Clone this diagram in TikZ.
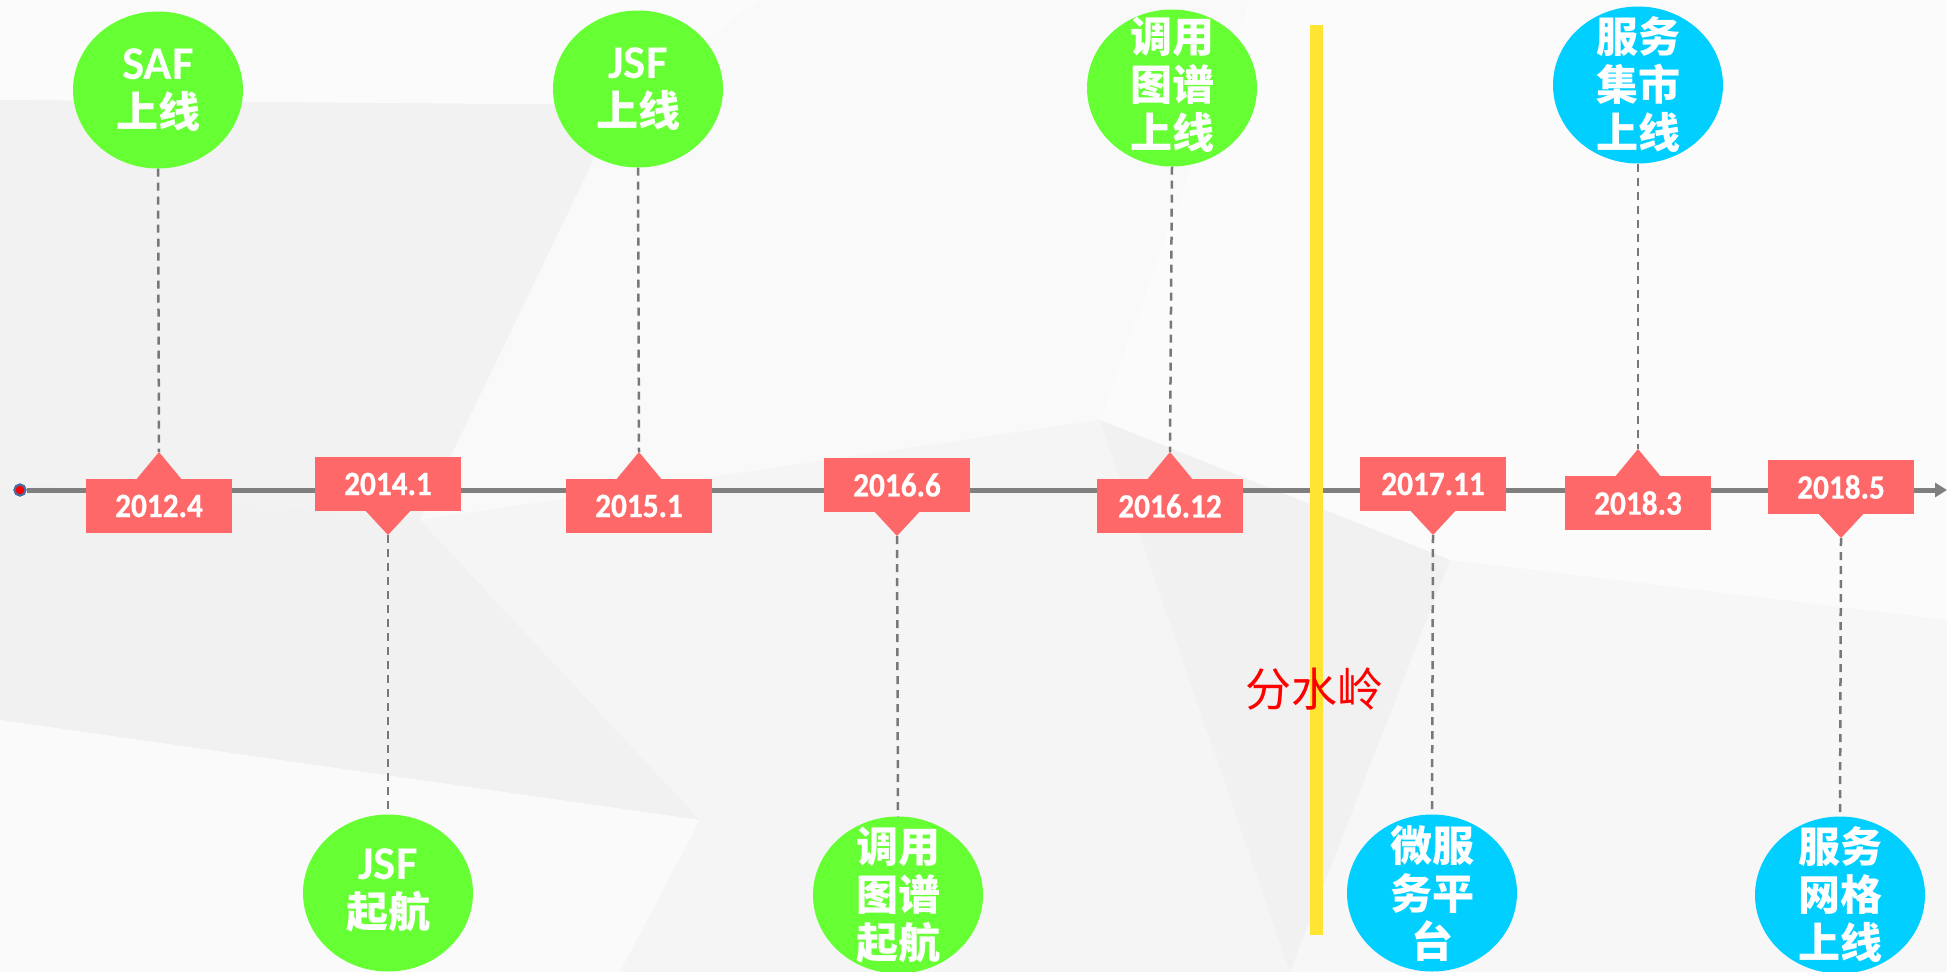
\documentclass[tikz,border=0pt]{standalone}
\usepackage{fontspec}
\usetikzlibrary{shapes.geometric,arrows.meta}
\newfontfamily\latf{Carlito}
\newfontfamily\cjkf{Noto Sans CJK SC}
\newfontfamily\datef{Carlito}[FakeBold=0.6,FakeStretch=0.92]
\definecolor{boxred}{RGB}{255,104,104}
\definecolor{evgreen}{RGB}{102,255,51}
\definecolor{evcyan}{RGB}{0,207,255}
\definecolor{wline}{RGB}{255,228,50}
\definecolor{axisgray}{RGB}{127,127,127}
\definecolor{dashgray}{RGB}{120,120,120}
\definecolor{dotblue}{RGB}{70,110,160}
\tikzset{
  evt/.style={ellipse, minimum width=170pt, minimum height=157pt, inner sep=0pt},
  gevt/.style={evt, fill=evgreen},
  cevt/.style={evt, fill=evcyan},
  evtext/.style={text=white, align=center, inner sep=0pt, font=\cjkf\bfseries\fontsize{42}{48}\selectfont},
  datebox/.style={rectangle, fill=boxred, minimum width=146pt, minimum height=54pt, inner sep=0pt, text=white, font=\datef\bfseries\fontsize{34}{36}\selectfont},
  dashline/.style={draw=dashgray, line width=2.5pt, dash pattern=on 8pt off 6pt},
  bgpoly/.style={draw=none}
}
\newcommand{\lat}[1]{{\latf\fontsize{47}{48}\selectfont #1}}
\begin{document}
\begin{tikzpicture}[x=1pt,y=-1pt]
\useasboundingbox (0,0) rectangle (1947,972);
% background
\fill[black!3.5] (0,0) rectangle (1947,972);
\fill[black!1.5,bgpoly] (0,0) -- (760,0) -- (620,105) -- (0,100) -- cycle;
\fill[black!5,bgpoly] (0,100) -- (620,105) -- (420,520) -- (0,480) -- cycle;
\fill[black!2.5,bgpoly] (620,105) -- (760,0) -- (1250,0) -- (1100,420) -- (420,520) -- cycle;
\fill[black!1.5,bgpoly] (1250,0) -- (1947,0) -- (1947,620) -- (1450,560) -- (1100,420) -- cycle;
\fill[black!5.5,bgpoly] (0,480) -- (420,520) -- (700,820) -- (0,720) -- cycle;
\fill[black!2,bgpoly] (0,720) -- (700,820) -- (620,972) -- (0,972) -- cycle;
\fill[black!4,bgpoly] (420,520) -- (1100,420) -- (1290,972) -- (620,972) -- (700,820) -- cycle;
\fill[black!5.5,bgpoly] (1100,420) -- (1450,560) -- (1290,972) -- cycle;
\fill[black!3,bgpoly] (1450,560) -- (1947,620) -- (1947,972) -- (1290,972) -- cycle;

% axis
\node[circle, fill=red, draw=dotblue, line width=2pt, minimum size=11pt, inner sep=0pt] (start) at (20,490) {};
\coordinate (end) at (1947,490);
\draw[axisgray, line width=5pt, -{Triangle[length=12pt,width=14pt]}] (start.east) -- (end);
\node[circle, fill=red, draw=dotblue, line width=2pt, minimum size=11pt, inner sep=0pt] at (start) {};

% watershed
\coordinate (wtop) at (1316,25);
\coordinate (wbot) at (1316,935);
\draw[wline, line width=13pt] (wtop) -- (wbot);
\node[text=red, font=\cjkf\fontsize{46}{50}\selectfont, inner sep=0pt] (ws) at (1314,689) {分水岭};

% date boxes (up)
\node[datebox] (b1) at (159,506) {2012.4};
\node[datebox] (b3) at (639,506) {2015.1};
\node[datebox] (b5) at (1170,506) {2016.12};
\node[datebox] (b7) at (1638,503) {2018.3};
\coordinate (a1) at (159,452);
\coordinate (a3) at (639,452);
\coordinate (a5) at (1170,452);
\coordinate (a7) at (1638,449);
\foreach \i in {1,3,5,7}{
  \fill[boxred] ([xshift=-23pt,yshift=-1pt]b\i.north) -- (a\i) -- ([xshift=23pt,yshift=-1pt]b\i.north) -- cycle;
}
% date boxes (down)
\node[datebox] (b2) at (388,484) {2014.1};
\node[datebox] (b4) at (897,485) {2016.6};
\node[datebox] (b6) at (1433,484) {2017.11};
\node[datebox] (b8) at (1841,487) {2018.5};
\coordinate (a2) at (388,535);
\coordinate (a4) at (897,536);
\coordinate (a6) at (1433,535);
\coordinate (a8) at (1841,538);
\foreach \i in {2,4,6,8}{
  \fill[boxred] ([xshift=-23pt,yshift=1pt]b\i.south) -- (a\i) -- ([xshift=23pt,yshift=1pt]b\i.south) -- cycle;
}

% event circles
\node[gevt] (c1) at (158,90) {};
\node[gevt] (c3) at (638,89) {};
\node[gevt] (c5) at (1172,88) {};
\node[cevt] (c7) at (1638,85) {};
\node[gevt] (c2) at (388,893) {};
\node[gevt] (c4) at (898,895) {};
\node[cevt] (c6) at (1432,893) {};
\node[cevt] (c8) at (1840,895) {};

\node[evtext] (t1) at (c1) {\lat{SAF}\\上线};
\node[evtext] (t3) at (c3) {\lat{JSF}\\上线};
\node[evtext] (t5) at ([yshift=3pt]c5) {调用\\图谱\\上线};
\node[evtext] (t7) at ([yshift=0pt]c7) {服务\\集市\\上线};
\node[evtext] (t2) at ([yshift=3pt]c2) {\lat{JSF}\\起航};
\node[evtext] (t4) at (c4) {调用\\图谱\\起航};
\node[evtext] (t6) at (c6) {微服\\务平\\台};
\node[evtext] (t8) at (c8) {服务\\网格\\上线};

% connectors
\draw[dashline] (c1.south) -- (a1);
\draw[dashline] (c3.south) -- (a3);
\draw[dashline] (c5.south) -- (a5);
\draw[dashline] (c7.south) -- (a7);
\draw[dashline] (a2) -- (c2.north);
\draw[dashline] (a4) -- (c4.north);
\draw[dashline] (a6) -- (c6.north);
\draw[dashline] (a8) -- (c8.north);
\end{tikzpicture}
\end{document}
